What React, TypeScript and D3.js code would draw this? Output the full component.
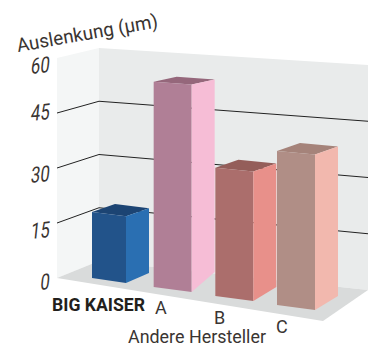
import React from "react";
import * as d3 from "d3";

const yTicks = [0, 15, 30, 45, 60];
const categories = ["BIG KAISER", "A", "B", "C"];
const values = [18, 56, 35, 42];
const frontColors = ["#22538a", "#b07f96", "#ab6e6c", "#b08e86"];
const sideColors = ["#2a6fb2", "#f6bdd6", "#e8908a", "#f2b8ae"];
const topColors = ["#1c4473", "#95677b", "#945e5a", "#a5837a"];
const categoryLabels = ["BIG KAISER", "A", "B", "C"];
const xTitle = "Andere Hersteller";
const yTitle = "Auslenkung (µm)";

const W = 376;
const H = 347;
const FONT = "Roboto, sans-serif";
const TEXT = "#3a3532";

// Wall edges: each is a value -> screen y scale
const leftEdge = d3.scaleLinear().domain([0, 60]).range([278, 58]);
const cornerEdge = d3.scaleLinear().domain([0, 60]).range([261, 48]);
const rightEdge = d3.scaleLinear().domain([0, 60]).range([290, 65]);
const XL = 57, XC = 99, XR = 368;

// Bars
const barX = d3.scalePoint<string>().domain(categories).range([92, 277]);
const barBase = d3.scaleLinear().domain([92, 277]).range([278, 305]);
const barH = d3.scaleLinear().domain([0, 60]).range([0, 220]);

const poly = (pts: [number, number][]) => d3.line()(pts) + "Z";

export default function App() {
  const grid = d3.line<[number, number]>();
  const labelShift = [11, 14, 13, 6, 14];
  return (
    <svg width={W} height={H} viewBox={`0 0 ${W} ${H}`} style={{ position: "absolute", left: 0, top: 0, background: "#fff" }}>
      <path d={poly([[XL, leftEdge(0)], [XL, leftEdge(60)], [XC, cornerEdge(60)], [XC, cornerEdge(0)]])} fill="#f4f6f6" />
      <path d={poly([[XC, cornerEdge(0)], [XC, cornerEdge(60)], [XR, rightEdge(60)], [XR, rightEdge(0)]])} fill="#e9ebeb" />
      <path d={poly([[XL, leftEdge(0)], [XC, cornerEdge(0)], [XR, rightEdge(0)], [323, 321]])} fill="#d9dbdb" />
      {yTicks.filter((t) => t > 0 && t < 60).map((t) => (
        <path key={t} d={grid([[XL, leftEdge(t)], [XC, cornerEdge(t)], [XR, rightEdge(t)]]) as string} fill="none" stroke="#222" strokeWidth={1} />
      ))}
      {categories.map((c, i) => {
        const x0 = barX(c) as number;
        const y0 = barBase(x0);
        const w = i === 0 ? 34 : 38;
        const dy = 5;
        const h = barH(values[i]);
        const sdx = 23;
        const rise = [10, 20, 14, 14][i];
        const topRise = i === 1 ? 5 : 8;
        const x1 = x0 + w;
        const y1 = y0 + dy;
        const x2 = x1 + sdx;
        const y1t = y1 - h * 1.01;
        const y0t = y0 - h;
        const y2 = y1 - rise;
        const y2t = y1t - topRise;
        const backX = x0 + sdx;
        const backY = y0t - topRise;
        return (
          <g key={c}>
            <path d={poly([[x0, y0t], [backX, backY], [x2, y2t], [x1, y1t]])} fill={topColors[i]} />
            <path d={poly([[x0, y0], [x0, y0t], [x1, y1t], [x1, y1]])} fill={frontColors[i]} />
            <path d={poly([[x1, y1], [x1, y1t], [x2, y2t], [x2, y2]])} fill={sideColors[i]} />
          </g>
        );
      })}
      {yTicks.map((t, i) => (
        <text key={t} transform={`translate(49,${leftEdge(t) + labelShift[i]}) rotate(-6) skewX(-12) scale(0.76,1)`} textAnchor="end" fontFamily={FONT} fontSize={22} fill={TEXT}>
          {t}
        </text>
      ))}
      <text transform="translate(18,52) rotate(-10)" fontFamily={FONT} fontSize={19} textLength={143} lengthAdjust="spacingAndGlyphs" fill={TEXT}>{yTitle}</text>
      <text x={52} y={311} fontFamily={FONT} fontWeight="bold" fontSize={18} textLength={93} lengthAdjust="spacingAndGlyphs" fill="#231f1c">{categoryLabels[0]}</text>
      <text x={155} y={314} fontFamily={FONT} fontSize={18} fill={TEXT}>{categoryLabels[1]}</text>
      <text x={214} y={324} fontFamily={FONT} fontSize={18} fill={TEXT}>{categoryLabels[2]}</text>
      <text x={276} y={333} fontFamily={FONT} fontSize={18} fill={TEXT}>{categoryLabels[3]}</text>
      <text x={128} y={343} fontFamily={FONT} fontSize={17.5} textLength={138} lengthAdjust="spacingAndGlyphs" fill={TEXT}>{xTitle}</text>
    </svg>
  );
}
